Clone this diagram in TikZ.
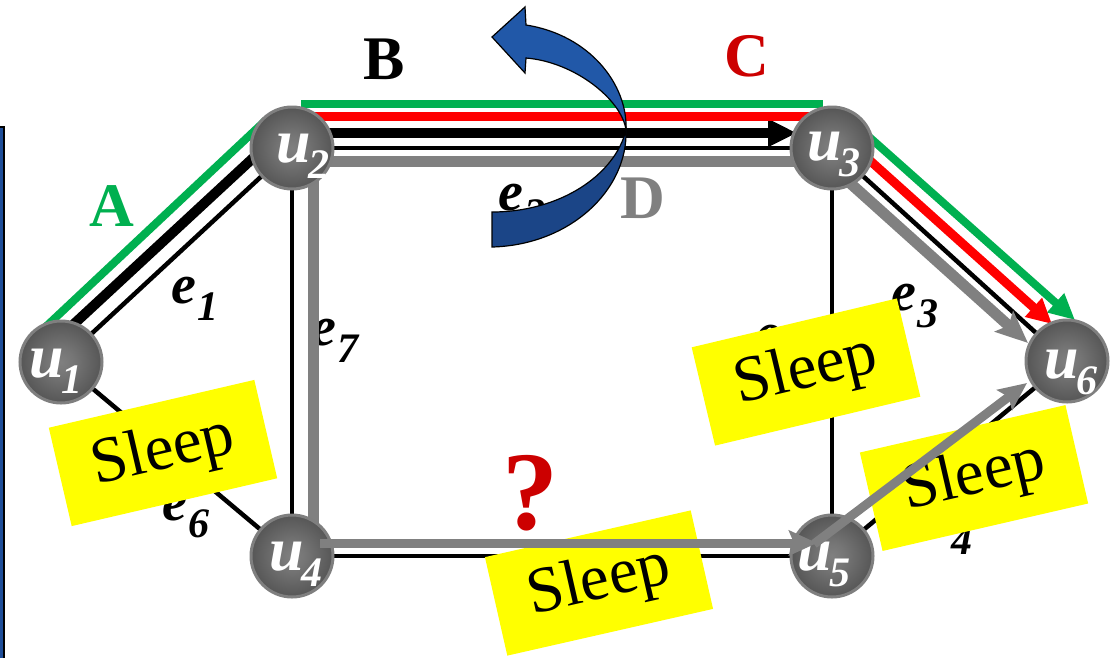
\documentclass[tikz,border=0pt]{standalone}
\usepackage{fontspec}
\setmainfont{Liberation Serif}
\usetikzlibrary{arrows.meta}
\definecolor{pgreen}{HTML}{00B050}
\definecolor{pred}{HTML}{FF0000}
\definecolor{dred}{HTML}{CC0000}
\definecolor{pgray}{HTML}{808080}
\definecolor{ballrim}{HTML}{7F7F7F}
\definecolor{bluebar}{HTML}{1F4E99}
\definecolor{arrowup}{HTML}{2158A8}
\definecolor{arrowlow}{HTML}{1B4587}
\definecolor{sleepy}{HTML}{FFFF00}
\pgfdeclareradialshading{ballshade}{\pgfpoint{0bp}{0bp}}{rgb(0bp)=(0.50,0.50,0.50); rgb(8bp)=(0.46,0.46,0.46); rgb(44bp)=(0.20,0.20,0.20); rgb(50bp)=(0.22,0.22,0.22); rgb(80bp)=(0.22,0.22,0.22)}
\pgfdeclarelayer{lines}
\pgfdeclarelayer{over}
\pgfdeclarelayer{top}
\pgfsetlayers{lines,main,over,top}
\newcommand\ulab[1]{{\fontsize{62}{62}\selectfont\bfseries\itshape u\kern-2pt\raisebox{-16pt}{\fontsize{42}{42}\selectfont #1}}}
\newcommand\elab[1]{{\fontsize{56}{56}\selectfont\bfseries\itshape e\kern1pt\raisebox{-17pt}{\fontsize{42}{42}\selectfont #1}}}
\begin{document}
\begin{tikzpicture}[x=1pt,y=-1pt,
  unode/.style={circle, minimum size=82pt, inner sep=0pt, draw=ballrim, line width=3pt, shading=ballshade},
  ulabel/.style={anchor=base west, text=white, inner sep=0pt},
  elabel/.style={anchor=base west, inner sep=0pt},
  edge/.style={line width=4.5pt, black},
  sleepbox/.style={fill=sleepy, minimum width=211pt, minimum height=101pt, inner sep=0pt, font=\fontsize{65}{65}\selectfont},
  pathlbl/.style={font=\fontsize{62}{62}\selectfont\bfseries, inner sep=0pt},
  greenpath/.style={pgreen, line width=8pt},
  redpath/.style={pred, line width=9pt},
  blackpath/.style={black, line width=10pt},
  graypath/.style={pgray, line width=11pt},
  grayarrow/.style={pgray, line width=9pt, -{Stealth[length=28pt,width=25pt,inset=5pt]}},
  ribbon/.style={draw=black, line width=1.2pt}
]
\useasboundingbox (0,0) rectangle (1113,657);
% nodes
\node[unode] (u1) at (61,362) {};
\node[unode] (u2) at (292,148) {};
\node[unode] (u3) at (832,148) {};
\node[unode] (u4) at (292,556) {};
\node[unode] (u5) at (832,556) {};
\node[unode] (u6) at (1067,361) {};
\node[ulabel] (u1t) at (29,377) {\ulab{1}};
\node[ulabel] (u2t) at (276,162) {\ulab{2}};
\node[ulabel] (u3t) at (807,160) {\ulab{3}};
\node[ulabel] (u4t) at (269,570) {\ulab{4}};
\node[ulabel] (u5t) at (797,570) {\ulab{5}};
\node[ulabel] (u6t) at (1044,378) {\ulab{6}};
% path labels
\node[pathlbl, text=pgreen] (lA) at (112,206) {A};
\node[pathlbl, text=black] (lB) at (384,59) {B};
\node[pathlbl, text=dred] (lC) at (747,56) {C};
\node[pathlbl, text=pgray] (lD) at (643,198) {D};

\begin{pgfonlayer}{lines}
\filldraw[fill=bluebar, draw=black, line width=1.2pt] (-10,127) rectangle (4,700);
% edge labels
\node[elabel] (e1) at (171,303) {\elab{1}};
\node[elabel] (e2) at (498,210) {\elab{2}};
\node[elabel] (e3) at (891,310) {\elab{3}};
\node[elabel] (e4) at (925,537) {\elab{4}};
\node[elabel] (e6) at (162,520) {\elab{6}};
\node[elabel] (e7) at (311,345) {\elab{7}};
\node[elabel] (e8) at (755,351) {\elab{8}};
% edges
\draw[edge] (u1.center) -- (u2.center);
\draw[edge] (u2.center) -- (u3.center);
\draw[edge] (u3.center) -- (u6.center);
\draw[edge] (u1.center) -- (u4.center);
\draw[edge] (u4.center) -- (u5.center);
\draw[edge] (u5.center) -- (u6.center);
\draw[edge] (u2.center) -- (u4.center);
\draw[edge] (u3.center) -- (u5.center);
% path A (green)
\draw[greenpath] ([shift={(-24,-27)}]u1.center) -- ([shift={(-26,-28)}]u2.center);
\draw[greenpath] ([shift={(9,-44)}]u2.center) -- ([shift={(-9,-44)}]u3.center);
\draw[greenpath, -{Triangle[length=26pt,width=24pt]}] ([shift={(22,-24.5)}]u3.center) -- ([shift={(8,-41)}]u6.center);
% path B (black)
\draw[blackpath] ([shift={(-13,-14)}]u1.center) -- ([shift={(-13,-14)}]u2.center);
\draw[blackpath, -{Triangle[length=29pt,width=26pt]}] ([shift={(0,-15)}]u2.center) -- ([shift={(-35,-15)}]u3.center);
% path C (red)
\draw[redpath] ([shift={(0,-32)}]u2.center) -- ([shift={(0,-32)}]u3.center);
\draw[redpath, -{Triangle[length=25pt,width=24pt]}] ([shift={(10.7,-11.9)}]u3.center) -- ([shift={(-15,-37)}]u6.center);
% path D (gray)
\draw[graypath] ([shift={(0,13)}]u3.center) -- ([shift={(21,13)}]u2.center) -- ([shift={(21,0)}]u4.center);
\draw[graypath, -{Stealth[length=32pt,width=27pt,inset=6pt]}] ([shift={(-9.4,10.4)}]u3.center) -- ([shift={(-39,-18)}]u6.center);
\end{pgfonlayer}

\begin{pgfonlayer}{over}
% curved blue arrow
\filldraw[ribbon, fill=arrowup] (492,37) -- (525,7) -- (526,25) .. controls (590,35) and (628,85) .. (626,130) .. controls (622,100) and (575,62) .. (526,58) -- (525,73) -- cycle;
\filldraw[ribbon, fill=arrowlow] (626,130) .. controls (628,190) and (570,245) .. (492,247) -- (492,212) .. controls (560,212) and (615,175) .. (626,130) -- cycle;
% sleep boxes
\node[sleepbox, rotate=13.1] (s1) at (163,453) {Sleep};
\node[sleepbox, rotate=13.4] (s2) at (806,372) {Sleep};
\node[sleepbox, rotate=13] (s3) at (974,478) {Sleep};
\node[sleepbox, rotate=12.8] (s4) at (599,583) {Sleep};
\end{pgfonlayer}

\begin{pgfonlayer}{top}
\draw[grayarrow] ([shift={(28,-13)}]u4.center) -- ([shift={(-15,-13)}]u5.center);
\draw[grayarrow] ([shift={(-18,-12)}]u5.center) -- ([shift={(-40,22)}]u6.center);
\node[font=\fontsize{112}{112}\selectfont\bfseries, text=dred, inner sep=0pt] (q) at (530,493) {?};
\end{pgfonlayer}
\end{tikzpicture}
\end{document}
